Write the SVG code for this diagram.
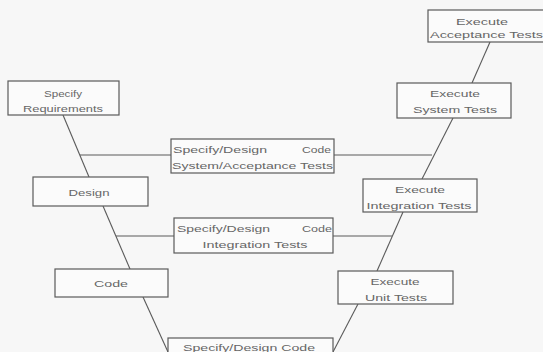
<svg xmlns="http://www.w3.org/2000/svg" width="543" height="352" viewBox="0 0 543 352">
<style>
.bx{fill:#fbfbfb;stroke:#5a5a5a;stroke-width:1.2}
.ln{stroke:#5a5a5a;stroke-width:1.1;fill:none}
text{font-family:"Liberation Sans",Arial,sans-serif;font-size:9.5px;fill:#666}
.c{text-anchor:middle}
</style>
<rect width="543" height="352" fill="#f7f7f7"/>
<g id="connectors">
<line class="ln" x1="63" y1="115" x2="89" y2="177"/>
<line class="ln" x1="103" y1="206" x2="130" y2="269"/>
<line class="ln" x1="143" y1="297" x2="168" y2="352"/>
<line class="ln" x1="490" y1="42" x2="472" y2="83"/>
<line class="ln" x1="453" y1="118" x2="422" y2="179"/>
<line class="ln" x1="403" y1="212" x2="377" y2="271"/>
<line class="ln" x1="358" y1="304" x2="333" y2="352"/>
<line class="ln" x1="80" y1="155" x2="171" y2="155"/>
<line class="ln" x1="334" y1="155" x2="432" y2="155"/>
<line class="ln" x1="116" y1="236" x2="174" y2="236"/>
<line class="ln" x1="333" y1="236" x2="392" y2="236"/>
</g>
<g id="specify-requirements">
<rect class="bx" x="8" y="81" width="111" height="34"/>
<text class="c" x="63" y="97" textLength="38" lengthAdjust="spacingAndGlyphs">Specify</text>
<text class="c" x="63" y="112" textLength="80" lengthAdjust="spacingAndGlyphs">Requirements</text>
</g>
<g id="design">
<rect class="bx" x="33" y="177" width="115" height="29"/>
<text class="c" x="89" y="196" textLength="41" lengthAdjust="spacingAndGlyphs">Design</text>
</g>
<g id="code">
<rect class="bx" x="55" y="269" width="113" height="28"/>
<text class="c" x="111" y="287" textLength="34" lengthAdjust="spacingAndGlyphs">Code</text>
</g>
<g id="system-acceptance-tests">
<rect class="bx" x="171" y="139" width="163" height="34"/>
<text x="173" y="153" textLength="94" lengthAdjust="spacingAndGlyphs">Specify/Design</text>
<text x="302" y="153" textLength="29" lengthAdjust="spacingAndGlyphs">Code</text>
<text x="172" y="169" textLength="161" lengthAdjust="spacingAndGlyphs">System/Acceptance Tests</text>
</g>
<g id="integration-tests">
<rect class="bx" x="174" y="218" width="159" height="35"/>
<text x="177" y="232" textLength="93" lengthAdjust="spacingAndGlyphs">Specify/Design</text>
<text x="302" y="232" textLength="30" lengthAdjust="spacingAndGlyphs">Code</text>
<text class="c" x="255" y="248" textLength="105" lengthAdjust="spacingAndGlyphs">Integration Tests</text>
</g>
<g id="unit-tests-design">
<rect class="bx" x="168" y="338" width="165" height="20"/>
<text class="c" x="249" y="351" textLength="132" lengthAdjust="spacingAndGlyphs">Specify/Design Code</text>
</g>
<g id="execute-acceptance-tests">
<rect class="bx" x="428" y="10" width="120" height="32"/>
<text class="c" x="482" y="25" textLength="52" lengthAdjust="spacingAndGlyphs">Execute</text>
<text x="430" y="38" textLength="113" lengthAdjust="spacingAndGlyphs">Acceptance Tests</text>
</g>
<g id="execute-system-tests">
<rect class="bx" x="397" y="83" width="114" height="35"/>
<text class="c" x="455" y="97" textLength="50" lengthAdjust="spacingAndGlyphs">Execute</text>
<text class="c" x="455" y="113" textLength="84" lengthAdjust="spacingAndGlyphs">System Tests</text>
</g>
<g id="execute-integration-tests">
<rect class="bx" x="363" y="179" width="114" height="33"/>
<text class="c" x="420" y="193" textLength="50" lengthAdjust="spacingAndGlyphs">Execute</text>
<text class="c" x="419" y="209" textLength="105" lengthAdjust="spacingAndGlyphs">Integration Tests</text>
</g>
<g id="execute-unit-tests">
<rect class="bx" x="338" y="271" width="115" height="33"/>
<text class="c" x="395" y="285" textLength="49" lengthAdjust="spacingAndGlyphs">Execute</text>
<text class="c" x="396" y="301" textLength="62" lengthAdjust="spacingAndGlyphs">Unit Tests</text>
</g>
</svg>
